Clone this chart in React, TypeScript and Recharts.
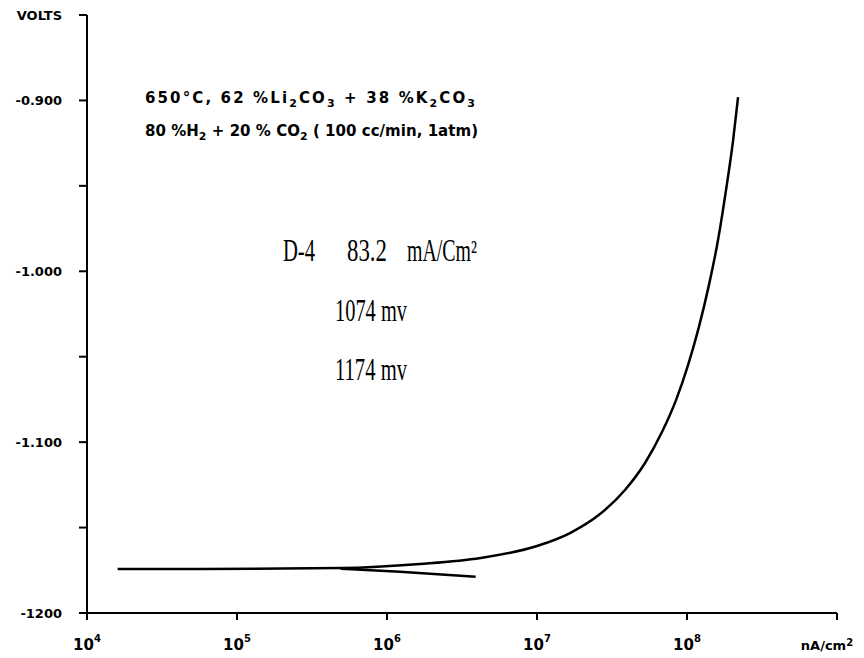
import React from 'react';
import { LineChart, Line, XAxis, YAxis } from 'recharts';

// polarization curve (nA/cm² vs volts)
const upperCurrent = [1.6e4, 5.7e4, 4.9e5, 1.66e6, 4.2e6, 1.0e7, 1.66e7, 2.63e7, 3.86e7, 5.25e7, 6.81e7, 8.45e7, 1.016e8, 1.2e8, 1.4e8, 1.61e8, 1.82e8, 2.03e8, 2.19e8];
const upperVolts = [-1.1743, -1.1743, -1.1737, -1.1713, -1.1678, -1.1608, -1.1532, -1.1421, -1.128, -1.1122, -1.0941, -1.0754, -1.0549, -1.0327, -1.0081, -0.9817, -0.9525, -0.9232, -0.8981];
const lowerCurrent = [4.9e5, 1.22e6, 3.9e6];
const lowerVolts = [-1.1741, -1.1759, -1.1788];

const xTicks = [1e4, 1e5, 1e6, 1e7, 1e8, 1e9];
const xExponents = ['4', '5', '6', '7', '8'];
const yTicks = [-1.2, -1.15, -1.1, -1.05, -1.0, -0.95, -0.9, -0.85];
const yLabels = ['-1200', '', '-1.100', '', '-1.000', '', '-0.900', 'VOLTS'];

const upperData = upperCurrent.map((x, i) => ({ x, v: upperVolts[i] }));
const lowerData = lowerCurrent.map((x, i) => ({ x, v: lowerVolts[i] }));

const axisFont = '"DejaVu Sans", sans-serif';
const handFont = '"Liberation Serif", serif';

const XTick = (props: any) => {
  const { x, y, index } = props;
  if (index === xExponents.length) {
    return (
      <text x={x - 10} y={y + 28} textAnchor="middle" fontFamily={axisFont} fontSize={13} fontWeight="bold" fill="#000">
        nA/cm<tspan dy={-4} fontSize={10}>2</tspan>
      </text>
    );
  }
  return (
    <text x={x} y={y + 28} textAnchor="middle" fontFamily={axisFont} fontSize={15} fontWeight="bold" fill="#000">
      10<tspan dy={-8} fontSize={10}>{xExponents[index]}</tspan>
    </text>
  );
};

const YTick = (props: any) => {
  const { y, index } = props;
  const label = yLabels[index];
  if (!label) return null;
  return (
    <text x={62} y={y + 5} textAnchor="end" fontFamily={axisFont} fontSize={13} fontWeight="bold" fill="#000">
      {label}
    </text>
  );
};

const Notes = () => (
  <svg width={864} height={658} style={{ position: 'absolute', left: 0, top: 0, pointerEvents: 'none' }}>
    <g fontFamily={axisFont} fontSize={15} fontWeight="bold" fill="#000">
      <text x={145} y={103} textLength={330} lengthAdjust="spacing">
        650°C,  62 %Li<tspan dy={4} fontSize={11}>2</tspan><tspan dy={-4}>CO</tspan><tspan dy={4} fontSize={11}>3</tspan>
        <tspan dy={-4}> + 38 %K</tspan><tspan dy={4} fontSize={11}>2</tspan><tspan dy={-4}>CO</tspan><tspan dy={4} fontSize={11}>3</tspan>
      </text>
      <text x={145} y={136} textLength={333} lengthAdjust="spacing">
        80 %H<tspan dy={4} fontSize={11}>2</tspan><tspan dy={-4}> + 20 % CO</tspan><tspan dy={4} fontSize={11}>2</tspan>
        <tspan dy={-4}> ( 100 cc/min, 1atm)</tspan>
      </text>
    </g>
    <g fontFamily={handFont} fontSize={31} fill="#000">
      <text x={283} y={261} textLength={32} lengthAdjust="spacingAndGlyphs">D-4</text>
      <text x={347} y={261} textLength={40} lengthAdjust="spacingAndGlyphs">83.2</text>
      <text x={407} y={261} textLength={70} lengthAdjust="spacingAndGlyphs">mA/Cm²</text>
      <text x={335} y={321} textLength={72} lengthAdjust="spacingAndGlyphs">1074 mv</text>
      <text x={335} y={380} textLength={72} lengthAdjust="spacingAndGlyphs">1174 mv</text>
    </g>
  </svg>
);

export default function App() {
  return (
    <div style={{ position: 'absolute', left: 0, top: 0, width: 864, height: 658, background: '#fff' }}>
      <LineChart width={864} height={658} margin={{ top: 15, right: 27, left: 0, bottom: 0 }}>
        <XAxis
          dataKey="x"
          type="number"
          scale="log"
          domain={[1e4, 1e9]}
          ticks={xTicks}
          allowDataOverflow
          height={45}
          stroke="#000"
          strokeWidth={2}
          tickSize={7}
          tickMargin={2}
          tick={<XTick />}
          interval={0}
        />
        <YAxis
          dataKey="v"
          type="number"
          domain={[-1.2, -0.85]}
          ticks={yTicks}
          allowDataOverflow
          width={87}
          stroke="#000"
          strokeWidth={2}
          tickSize={8}
          tick={<YTick />}
          interval={0}
        />
        <Line data={upperData} dataKey="v" type="monotone" stroke="#000" strokeWidth={2.5} dot={false} isAnimationActive={false} />
        <Line data={lowerData} dataKey="v" type="monotone" stroke="#000" strokeWidth={2.5} dot={false} isAnimationActive={false} />
      </LineChart>
      <Notes />
    </div>
  );
}
